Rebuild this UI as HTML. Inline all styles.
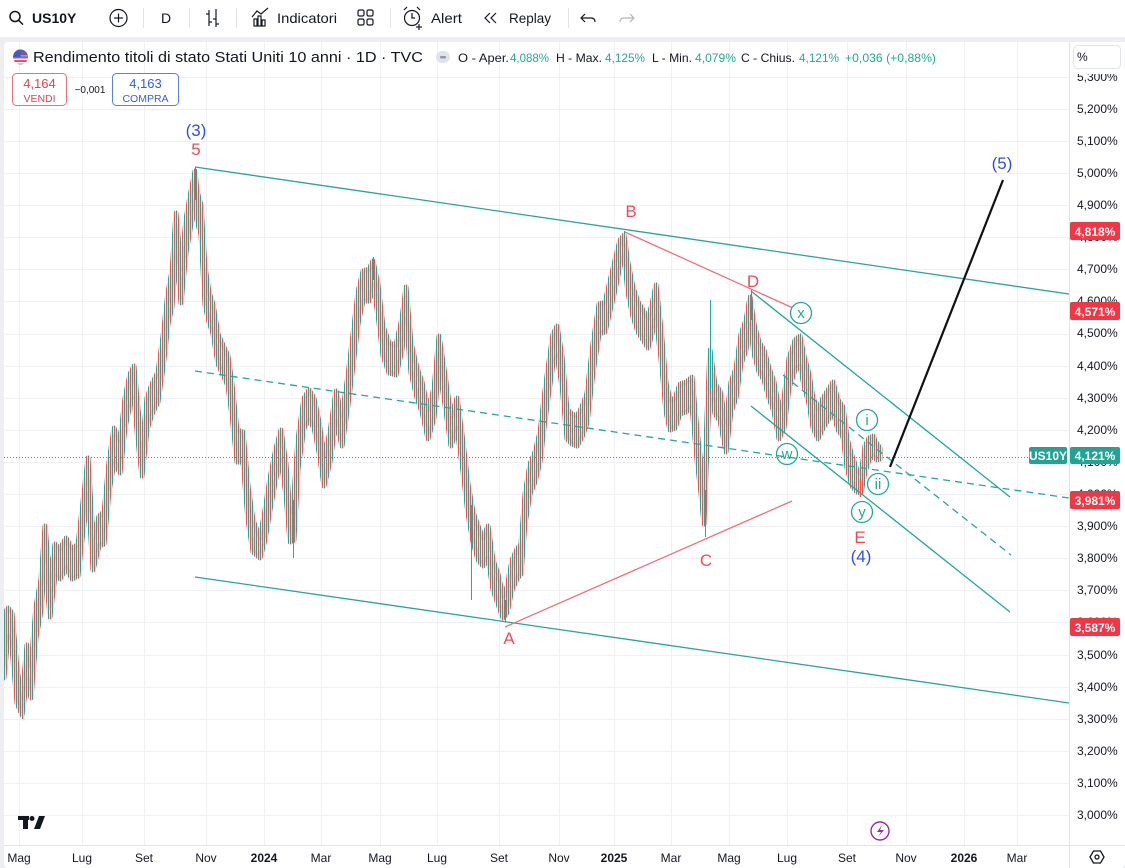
<!DOCTYPE html>
<html><head><meta charset="utf-8"><style>
html,body{margin:0;padding:0;background:#fff;}
svg{display:block;font-family:"Liberation Sans",sans-serif;}
</style></head><body>
<svg width="1125" height="868" viewBox="0 0 1125 868" xmlns="http://www.w3.org/2000/svg">
<defs>
<clipPath id="cp"><rect x="4" y="42" width="1065" height="803"/></clipPath>
<pattern id="bp" patternUnits="userSpaceOnUse" width="4" height="8"><rect x="0" y="0" width="1.2" height="8" fill="#26a69a"/><rect x="2" y="0" width="1.2" height="8" fill="#ef5350"/></pattern>
</defs>
<rect x="0" y="0" width="1125" height="868" fill="#eceef2"/>
<rect x="0" y="0" width="1125" height="37" fill="#fff"/>
<rect x="4" y="42" width="1121" height="826" rx="4" fill="#fff"/>
<g stroke="#131722" fill="none" stroke-width="1.5">
<circle cx="15" cy="16.5" r="5"/><line x1="18.6" y1="20.2" x2="23" y2="24.6"/>
<circle cx="118.5" cy="18" r="8.5" stroke-width="1.2"/><line x1="114" y1="18" x2="123" y2="18" stroke-width="1.2"/><line x1="118.5" y1="13.5" x2="118.5" y2="22.5" stroke-width="1.2"/>
<g stroke-width="1.2"><line x1="209" y1="10" x2="209" y2="26"/><line x1="206" y1="14" x2="209" y2="14"/><line x1="209" y1="22" x2="212" y2="22"/><line x1="216" y1="9" x2="216" y2="27"/><line x1="213" y1="19" x2="216" y2="19"/><line x1="216" y1="24" x2="219" y2="24"/></g>
<g stroke-width="1.2"><rect x="254" y="19" width="3" height="7"/><rect x="258" y="16" width="3" height="10"/><rect x="262" y="20" width="3" height="6"/><polyline points="252,17 257,11 261,14 268,8"/></g>
<g stroke-width="1.2"><rect x="358" y="10" width="6" height="6" rx="1.5"/><rect x="367" y="10" width="6" height="6" rx="1.5"/><rect x="358" y="19" width="6" height="6" rx="1.5"/><rect x="367" y="19" width="6" height="6" rx="1.5"/></g>
<g stroke-width="1.2"><circle cx="412" cy="18" r="7.5"/><polyline points="412,13 412,18 415,18"/><line x1="404" y1="10" x2="407" y2="7"/><line x1="420" y1="10" x2="417" y2="7"/><line x1="419" y1="24" x2="419" y2="30"/><line x1="416" y1="27" x2="422" y2="27"/></g>
<g stroke-width="1.2"><polyline points="490,13 485,18 490,23"/><polyline points="496,13 491,18 496,23"/></g>
<g stroke-width="1.2"><polyline points="585,14 581,18 585,22"/><path d="M581 18 H591 Q595 18 595 22"/></g>
<g stroke-width="1.2" stroke="#b2b5be"><polyline points="630,14 634,18 630,22"/><path d="M634 18 H624 Q620 18 620 22"/></g>
</g>
<g stroke="#e0e3eb" stroke-width="1"><line x1="143.5" y1="8" x2="143.5" y2="28"/><line x1="189.5" y1="8" x2="189.5" y2="28"/><line x1="236.5" y1="8" x2="236.5" y2="28"/><line x1="390.5" y1="8" x2="390.5" y2="28"/><line x1="568.5" y1="8" x2="568.5" y2="28"/></g>
<g fill="#131722" font-size="14">
<text x="32" y="23" font-weight="bold">US10Y</text>
<text x="161" y="23">D</text>
<text x="277" y="23" textLength="60" lengthAdjust="spacingAndGlyphs">Indicatori</text>
<text x="431" y="23" textLength="31" lengthAdjust="spacingAndGlyphs">Alert</text>
<text x="509" y="23" textLength="42" lengthAdjust="spacingAndGlyphs">Replay</text>
</g>
<!-- grid -->
<path stroke="#eef0f4" stroke-width="1" fill="none" d="M19.5 42V845M82.5 42V845M144.5 42V845M206.5 42V845M264.5 42V845M321.5 42V845M380.5 42V845M437.5 42V845M499.5 42V845M559.5 42V845M614.5 42V845M671.5 42V845M729.5 42V845M787.5 42V845M847.5 42V845M906.5 42V845M964.5 42V845M1017.5 42V845
M4 77.5H1069M4 109.5H1069M4 141.5H1069M4 173.5H1069M4 205.5H1069M4 237.5H1069M4 269.5H1069M4 301.5H1069M4 334.5H1069M4 366.5H1069M4 398.5H1069M4 430.5H1069M4 462.5H1069M4 494.5H1069M4 526.5H1069M4 558.5H1069M4 590.5H1069M4 622.5H1069M4 655.5H1069M4 687.5H1069M4 719.5H1069M4 751.5H1069M4 783.5H1069M4 815.5H1069"/>
<g clip-path="url(#cp)">
<polygon fill="url(#bp)" stroke="url(#bp)" stroke-width="5" stroke-linejoin="round" points="4,614 8,608 12,613 17,669 22,698 27,645 31,666 36,606 41,579 45,526 50,581 55,544 60,549 66,538 72,549 78,544 82,510 88,458 93,538 99,516 104,512 109,462 114,428 120,441 125,398 130,374 134,366 138,409 142,448 147,398 152,384 158,372 163,336 168,292 172,271 176,213 181,269 186,219 190,196 195,171 197,191 201,205 205,267 209,292 213,304 218,334 223,345 228,356 232,384 237,430 243,432 248,486 253,520 260,538 265,510 270,478 276,448 281,430 286,464 290,512 294,494 298,439 304,398 309,390 314,398 319,422 324,456 330,432 336,391 342,416 348,375 353,334 358,292 363,271 369,269 373,261 378,285 383,326 389,343 396,345 402,318 406,287 411,343 417,368 422,382 428,409 434,388 439,336 445,375 451,416 457,398 463,442 468,484 473,512 478,526 483,538 488,526 493,560 498,574 503,596 507,587 512,560 517,549 521,544 525,494 530,464 535,452 540,432 544,398 548,368 553,334 557,326 562,356 567,409 572,414 577,416 582,407 587,393 593,343 599,304 605,302 610,281 615,260 620,240 624,235 628,263 633,287 638,302 643,310 648,318 652,304 656,285 661,329 666,382 670,400 675,398 680,384 686,382 692,377 697,430 701,464 704,494 707,416 710,350 715,384 720,391 726,422 731,382 736,368 741,334 746,320 750,297 754,324 759,342 764,350 769,368 774,382 779,409 784,398 789,358 795,340 800,336 804,356 809,374 813,398 818,409 823,398 828,390 833,382 838,400 843,407 847,438 852,456 857,470 861,474 865,446 869,438 873,436 877,444 880,448 880,459 877,460 873,456 869,460 865,472 861,493 857,492 852,486 847,468 843,437 838,430 833,412 828,420 823,428 818,439 813,428 809,404 804,386 800,366 795,370 789,388 784,428 779,439 774,412 769,398 764,380 759,372 754,354 750,325 746,350 741,364 736,398 731,412 726,452 720,421 715,414 710,380 707,446 704,524 701,494 697,460 692,407 686,412 680,414 675,428 670,430 666,412 661,359 656,317 652,334 648,348 643,340 638,332 633,317 628,293 624,256 620,266 615,290 610,311 605,332 599,334 593,373 587,423 582,437 577,446 572,444 567,439 562,386 557,356 553,364 548,398 544,428 540,462 535,482 530,494 525,524 521,574 517,579 512,590 507,613 503,618 498,604 493,590 488,558 483,566 478,560 473,542 468,514 463,472 457,428 451,446 445,405 439,368 434,418 428,439 422,412 417,398 411,373 406,319 402,350 396,375 389,373 383,356 378,315 373,285 369,301 363,301 358,324 353,366 348,405 342,446 336,421 330,462 324,486 319,452 314,428 309,420 304,428 298,469 294,540 290,542 286,496 281,460 276,478 270,510 265,540 260,558 253,552 248,520 243,462 237,462 232,416 228,386 223,375 218,364 213,334 209,322 205,305 201,235 197,221 195,201 190,230 186,253 181,303 176,251 172,307 168,324 163,368 158,402 152,414 147,430 142,476 138,441 134,398 130,404 125,428 120,473 114,462 109,492 104,544 99,546 93,570 88,494 82,540 78,576 72,579 66,568 60,579 55,576 50,617 45,560 41,611 36,638 31,698 27,679 22,715 17,703 12,649 8,636 4,678"/>
<path fill="none" stroke-width="1" stroke="#ef5350" d="M293.5 500V558M471.5 505V600M705.5 490V537M22.5 700V719M860.5 480V497M505.5 600V622"/>
<path fill="none" stroke-width="1" stroke="#26a69a" d="M710.5 300V390M751.5 290V320M195.5 167V200M624.5 231V250M373.5 257V280"/>
<line x1="4" y1="457.5" x2="1069" y2="457.5" stroke="#26a69a" stroke-width="1" stroke-dasharray="1 2"/>
<g stroke="#26a69a" stroke-width="1.3" fill="none">
<line x1="195" y1="167" x2="1069" y2="294"/>
<line x1="195" y1="577" x2="1069" y2="703"/>
<line x1="751" y1="291" x2="1010" y2="497"/>
<line x1="751" y1="406" x2="1010" y2="612"/>
<line x1="195" y1="371" x2="1069" y2="498" stroke-dasharray="7 5"/>
<line x1="783" y1="375" x2="1011" y2="555" stroke-dasharray="7 5"/>
</g>
<g stroke="#f0707e" stroke-width="1.3">
<line x1="625" y1="232" x2="793" y2="308"/>
<line x1="505" y1="627" x2="792" y2="501"/>
</g>
<line x1="890" y1="467" x2="1003" y2="180" stroke="#111" stroke-width="2.2"/>
<g fill="#fff" stroke="#26a69a" stroke-width="1.3">
<circle cx="801" cy="313" r="10.5"/><circle cx="867" cy="420" r="10.5"/><circle cx="787" cy="454" r="10.5" fill="none"/><circle cx="878" cy="484" r="10.5"/><circle cx="862" cy="512" r="10.5"/>
</g>
<g fill="#26a69a" font-size="15" text-anchor="middle">
<text x="801" y="318">x</text><text x="867" y="425">i</text><text x="787" y="459">w</text><text x="878" y="489">ii</text><text x="862" y="517">y</text>
</g>
<g fill="#ef4a5a" font-size="17" text-anchor="middle">
<text x="196" y="155">5</text><text x="631" y="217">B</text><text x="753" y="287">D</text><text x="706" y="566">C</text><text x="509" y="644">A</text><text x="860" y="543">E</text>
</g>
<g fill="#3550d6" font-size="17" text-anchor="middle">
<text x="196" y="136">(3)</text><text x="861" y="562">(4)</text><text x="1002" y="169">(5)</text>
</g>
<g transform="translate(18,815)" fill="#131722"><rect x="0" y="1" width="11" height="4"/><rect x="5" y="1" width="5" height="13"/><circle cx="14" cy="3.5" r="2.5"/><polygon points="16,14 21,1 27,1 22,14"/></g>
<circle cx="880" cy="831" r="9" fill="#fff" stroke="#9c27b0" stroke-width="1.4"/>
<path d="M882 825 L877 832 H881 L878 837 L884 830 H880 Z" fill="#9c27b0"/>
</g>
<!-- header -->
<g>
<circle cx="20.5" cy="57" r="7.5" fill="#e04c52"/>
<rect x="13" y="55" width="15" height="1.6" fill="#fff"/><rect x="13" y="58.5" width="15" height="1.6" fill="#fff"/><rect x="13" y="62" width="15" height="1.6" fill="#fff"/>
<path d="M13 57 A7.5 7.5 0 0 1 20.5 49.5 V57 Z" fill="#3b5ec7"/>
<path d="M20.5 49.5 A7.5 7.5 0 0 1 28 57 H20.5Z" fill="#3b5ec7" opacity="0.6"/>
</g>
<text x="33" y="62" font-size="14.5" fill="#131722" textLength="390" lengthAdjust="spacingAndGlyphs">Rendimento titoli di stato Stati Uniti 10 anni · 1D · TVC</text>
<rect x="436" y="51" width="14" height="12" rx="6" fill="#e0e3eb"/><rect x="440" y="56" width="6" height="2.5" rx="1" fill="#9598a1"/>
<g font-size="12" fill="#131722">
<text x="458" y="62" textLength="51" lengthAdjust="spacingAndGlyphs">O - Aper.</text>
<text x="510" y="62" fill="#22ab94" textLength="39" lengthAdjust="spacingAndGlyphs">4,088%</text>
<text x="556" y="62" textLength="46" lengthAdjust="spacingAndGlyphs">H - Max.</text>
<text x="605" y="62" fill="#22ab94" textLength="40" lengthAdjust="spacingAndGlyphs">4,125%</text>
<text x="652" y="62" textLength="40" lengthAdjust="spacingAndGlyphs">L - Min.</text>
<text x="695" y="62" fill="#22ab94" textLength="41" lengthAdjust="spacingAndGlyphs">4,079%</text>
<text x="741" y="62" textLength="54" lengthAdjust="spacingAndGlyphs">C - Chius.</text>
<text x="799" y="62" fill="#22ab94" textLength="40" lengthAdjust="spacingAndGlyphs">4,121%</text>
<text x="845" y="62" fill="#22ab94" textLength="91" lengthAdjust="spacingAndGlyphs">+0,036 (+0,88%)</text>
</g>
<rect x="12.5" y="73.5" width="54" height="32" rx="4" fill="#fff" stroke="#e8707b"/>
<text x="39.5" y="88" font-size="13" fill="#e0434f" text-anchor="middle">4,164</text>
<text x="39.5" y="102" font-size="10.5" fill="#e0434f" text-anchor="middle">VENDI</text>
<text x="90" y="93" font-size="10" fill="#131722" text-anchor="middle">−0,001</text>
<rect x="112.5" y="73.5" width="66" height="32" rx="4" fill="#fff" stroke="#5b7fe6"/>
<text x="145.5" y="88" font-size="13" fill="#2f5fd8" text-anchor="middle">4,163</text>
<text x="145.5" y="102" font-size="10.5" fill="#2f5fd8" text-anchor="middle">COMPRA</text>
<!-- right axis -->
<rect x="1069" y="42" width="56" height="803" fill="#fff"/>
<line x1="1069.5" y1="42" x2="1069.5" y2="868" stroke="#e0e3eb"/>
<g font-size="12" fill="#131722">
<text x="1077" y="81">5,300%</text><text x="1077" y="113">5,200%</text><text x="1077" y="145">5,100%</text><text x="1077" y="177">5,000%</text><text x="1077" y="209">4,900%</text><text x="1077" y="241">4,800%</text><text x="1077" y="273">4,700%</text><text x="1077" y="305">4,600%</text><text x="1077" y="337">4,500%</text><text x="1077" y="370">4,400%</text><text x="1077" y="402">4,300%</text><text x="1077" y="434">4,200%</text><text x="1077" y="466">4,100%</text><text x="1077" y="498">4,000%</text><text x="1077" y="530">3,900%</text><text x="1077" y="562">3,800%</text><text x="1077" y="594">3,700%</text><text x="1077" y="626">3,600%</text><text x="1077" y="659">3,500%</text><text x="1077" y="691">3,400%</text><text x="1077" y="723">3,300%</text><text x="1077" y="755">3,200%</text><text x="1077" y="787">3,100%</text><text x="1077" y="819">3,000%</text>
</g>
<rect x="1070" y="42" width="55" height="32" fill="#fff"/>
<rect x="1073.5" y="45.5" width="47" height="23" rx="4" fill="#fff" stroke="#e0e3eb"/>
<text x="1077" y="61" font-size="12" fill="#131722">%</text>
<g font-size="12" font-weight="bold" fill="#fff" text-anchor="middle">
<rect x="1070" y="222" width="50" height="18" rx="2" fill="#f23645"/><text x="1095" y="236">4,818%</text>
<rect x="1070" y="302" width="50" height="18" rx="2" fill="#f23645"/><text x="1095" y="316">4,571%</text>
<rect x="1029" y="447" width="38" height="17" rx="2" fill="#22a393"/><text x="1048" y="460">US10Y</text>
<rect x="1070" y="447" width="50" height="17" rx="2" fill="#22a393"/><text x="1095" y="460">4,121%</text>
<rect x="1070" y="491" width="50" height="18" rx="2" fill="#f23645"/><text x="1095" y="505">3,981%</text>
<rect x="1070" y="618" width="50" height="18" rx="2" fill="#f23645"/><text x="1095" y="632">3,587%</text>
</g>
<!-- time axis -->
<line x1="4" y1="845.5" x2="1125" y2="845.5" stroke="#e0e3eb"/>
<g font-size="12" fill="#131722" text-anchor="middle">
<text x="19" y="862">Mag</text><text x="82" y="862">Lug</text><text x="144" y="862">Set</text><text x="206" y="862">Nov</text><text x="264" y="862" font-weight="bold">2024</text><text x="321" y="862">Mar</text><text x="380" y="862">Mag</text><text x="437" y="862">Lug</text><text x="499" y="862">Set</text><text x="559" y="862">Nov</text><text x="614" y="862" font-weight="bold">2025</text><text x="671" y="862">Mar</text><text x="729" y="862">Mag</text><text x="787" y="862">Lug</text><text x="847" y="862">Set</text><text x="906" y="862">Nov</text><text x="964" y="862" font-weight="bold">2026</text><text x="1017" y="862">Mar</text>
</g>
<g transform="translate(1097,857)" fill="none" stroke="#131722" stroke-width="1.3"><polygon points="-7,0 -3.5,-6 3.5,-6 7,0 3.5,6 -3.5,6"/><circle cx="0" cy="0" r="2"/></g>
</svg>
</body></html>
